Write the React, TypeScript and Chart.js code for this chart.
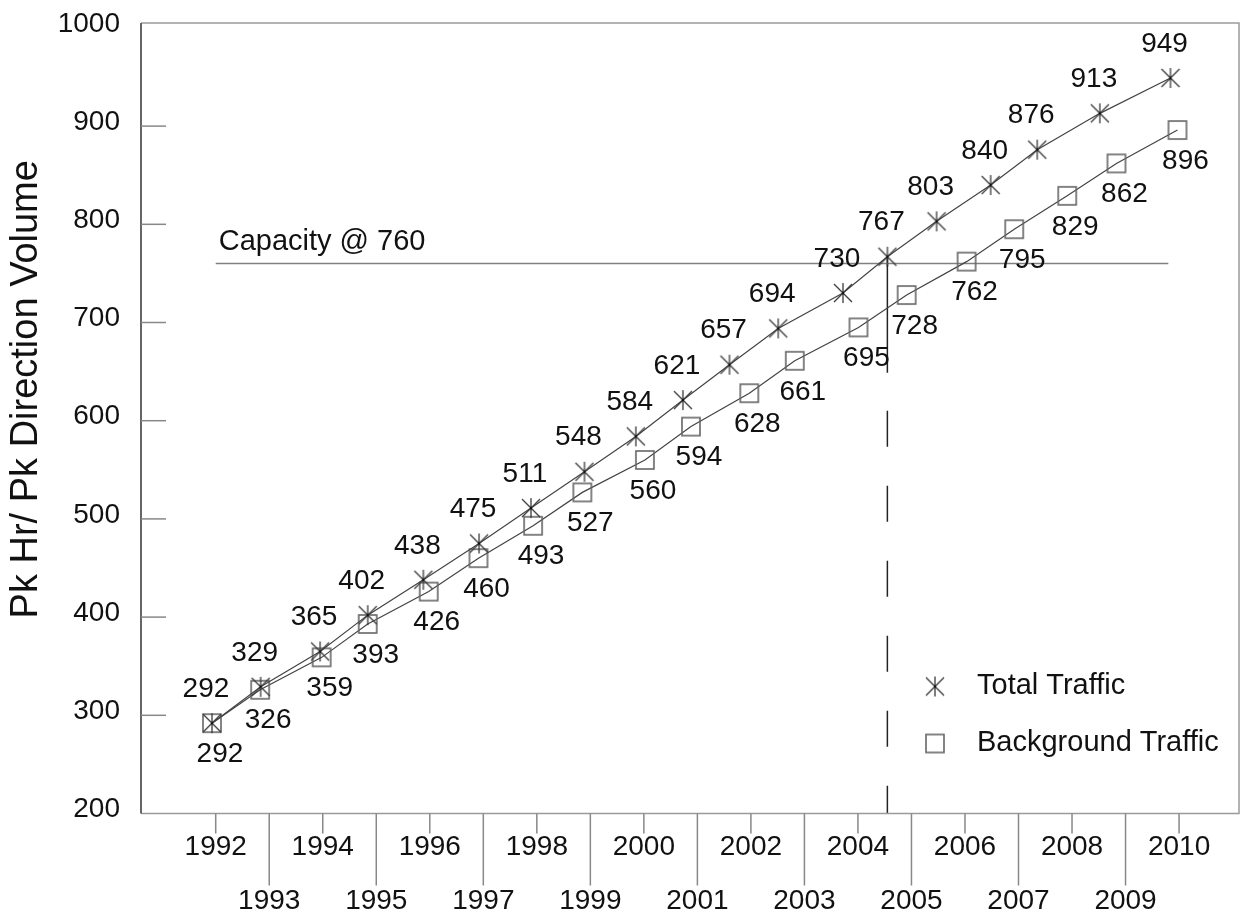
import React, { useEffect, useRef } from 'react';
import { Chart, registerables } from 'chart.js';

Chart.register(...registerables);

// ---- data ----
const years = [1992, 1993, 1994, 1995, 1996, 1997, 1998, 1999, 2000, 2001, 2002, 2003, 2004, 2005, 2006, 2007, 2008, 2009, 2010];
const totalTraffic = [292, 329, 365, 402, 438, 475, 511, 548, 584, 621, 657, 694, 730, 767, 803, 840, 876, 913, 949];
const backgroundTraffic = [292, 326, 359, 393, 426, 460, 493, 527, 560, 594, 628, 661, 695, 728, 762, 795, 829, 862, 896];
// horizontal positions (in years) at which the markers sit in the picture
const totalYearPos = [1991.93, 1992.84, 1993.95, 1994.84, 1995.88, 1996.92, 1997.89, 1998.89, 1999.85, 2000.73, 2001.6, 2002.51, 2003.72, 2004.55, 2005.47, 2006.48, 2007.35, 2008.52, 2009.84];
const backgroundYearPos = [1991.93, 1992.83, 1993.98, 1994.84, 1995.98, 1996.91, 1997.93, 1998.85, 2000.02, 2000.88, 2001.97, 2002.82, 2004.01, 2004.91, 2006.03, 2006.92, 2007.91, 2008.83, 2009.97];
const yTicks = [200, 300, 400, 500, 600, 700, 800, 900, 1000];
const capacity = 760;
const capacityFrom = 1992;
const capacityTo = 2009.8;
const capacityLabel = 'Capacity @ 760';
const exceedIndex = 13; // first year total traffic exceeds capacity (2005)
const seriesNames = ['Total Traffic', 'Background Traffic'];
const yTitle = 'Pk Hr/ Pk Direction Volume';

const FONT = '"Liberation Sans", Arial, sans-serif';

function makeAsterisk(): HTMLCanvasElement {
  const c = document.createElement('canvas');
  c.width = 22;
  c.height = 22;
  const ctx = c.getContext('2d')!;
  ctx.strokeStyle = '#3a3a3a';
  ctx.lineWidth = 1.3;
  const m = 11;
  ctx.beginPath();
  ctx.moveTo(m, m - 10);
  ctx.lineTo(m, m + 10);
  ctx.moveTo(m - 9, m - 9);
  ctx.lineTo(m + 9, m + 9);
  ctx.moveTo(m + 9, m - 9);
  ctx.lineTo(m - 9, m + 9);
  ctx.stroke();
  ctx.fillStyle = '#111';
  ctx.fillRect(m - 1, m - 1, 2, 2);
  return c;
}

function makeSquare(): HTMLCanvasElement {
  const c = document.createElement('canvas');
  c.width = 22;
  c.height = 22;
  const ctx = c.getContext('2d')!;
  ctx.strokeStyle = '#666';
  ctx.lineWidth = 1.6;
  ctx.strokeRect(2, 2, 18, 18);
  return c;
}

export default function App() {
  const ref = useRef<HTMLCanvasElement | null>(null);

  useEffect(() => {
    const canvas = ref.current;
    if (!canvas) return;
    const asterisk = makeAsterisk();
    const square = makeSquare();

    const decor = {
      id: 'decor',
      afterDatasetsDraw(chart: any) {
        const ctx = chart.ctx;
        const a = chart.chartArea;
        const xs = chart.scales.x;
        const ys = chart.scales.y;
        ctx.save();
        // frame
        ctx.strokeStyle = '#9a9a9a';
        ctx.lineWidth = 1.5;
        ctx.beginPath();
        ctx.moveTo(a.left, a.top);
        ctx.lineTo(a.right, a.top);
        ctx.lineTo(a.right, a.bottom);
        ctx.lineTo(a.left, a.bottom);
        ctx.stroke();
        ctx.strokeStyle = '#666';
        ctx.lineWidth = 2;
        ctx.beginPath();
        ctx.moveTo(a.left, a.top);
        ctx.lineTo(a.left, a.bottom);
        ctx.stroke();
        // y ticks (inward)
        ctx.strokeStyle = '#888';
        ctx.lineWidth = 1.5;
        yTicks.forEach((v) => {
          if (v === yTicks[0] || v === yTicks[yTicks.length - 1]) return;
          const py = ys.getPixelForValue(v);
          ctx.beginPath();
          ctx.moveTo(a.left, py);
          ctx.lineTo(a.left + 25, py);
          ctx.stroke();
        });
        // x ticks (outward, odd years longer)
        years.forEach((yr) => {
          const px = xs.getPixelForValue(yr);
          ctx.beginPath();
          ctx.moveTo(px, a.bottom);
          ctx.lineTo(px, a.bottom + (yr % 2 ? 72 : 20));
          ctx.stroke();
        });
        // data labels
        ctx.fillStyle = '#111';
        ctx.font = `28px ${FONT}`;
        ctx.textAlign = 'center';
        ctx.textBaseline = 'middle';
        const m0 = chart.getDatasetMeta(0);
        m0.data.forEach((el: any, i: number) => {
          ctx.fillText(String(totalTraffic[i]), el.x - 6, el.y - 34);
        });
        const m1 = chart.getDatasetMeta(1);
        m1.data.forEach((el: any, i: number) => {
          ctx.fillText(String(backgroundTraffic[i]), el.x + 8, el.y + 31);
        });
        // capacity label
        ctx.font = `29px ${FONT}`;
        ctx.textAlign = 'left';
        ctx.fillText(capacityLabel, xs.getPixelForValue(capacityFrom) + 3, ys.getPixelForValue(capacity) - 22);
        // legend
        const lx = a.right - 304;
        const ly = a.bottom - 127;
        ctx.drawImage(asterisk, lx - 11, ly - 11);
        ctx.drawImage(square, lx - 11, ly + 57 - 11);
        ctx.fillText(seriesNames[0], lx + 42, ly - 1);
        ctx.fillText(seriesNames[1], lx + 42, ly + 56);
        // y title
        ctx.translate(27, (a.top + a.bottom) / 2 - 29);
        ctx.rotate(-Math.PI / 2);
        ctx.textAlign = 'center';
        ctx.font = `38px ${FONT}`;
        ctx.fillText(yTitle, 0, 0);
        ctx.restore();
      },
    };

    const dropX = totalYearPos[exceedIndex];
    const chart = new Chart(canvas, {
      type: 'line',
      data: {
        datasets: [
          {
            label: seriesNames[0],
            data: totalYearPos.map((x, i) => ({ x, y: totalTraffic[i] })),
            borderColor: '#444',
            borderWidth: 1.2,
            pointStyle: asterisk as any,
            pointRadius: 10,
            tension: 0,
          },
          {
            label: seriesNames[1],
            data: backgroundYearPos.map((x, i) => ({ x, y: backgroundTraffic[i] })),
            borderColor: '#444',
            borderWidth: 1.2,
            pointStyle: square as any,
            pointRadius: 10,
            tension: 0,
          },
          {
            label: 'capacity',
            data: [
              { x: capacityFrom, y: capacity },
              { x: capacityTo, y: capacity },
            ],
            borderColor: '#808080',
            borderWidth: 1.5,
            pointRadius: 0,
          },
          {
            label: 'drop',
            data: [
              { x: dropX, y: totalTraffic[exceedIndex] },
              { x: dropX, y: yTicks[0] },
            ],
            borderColor: '#222',
            borderWidth: 1.5,
            borderDash: [116, 38, 36, 39, 36, 39, 36, 39, 36, 39, 36, 39, 36, 39],
            pointRadius: 0,
          },
        ],
      },
      options: {
        animation: false,
        responsive: false,
        layout: { autoPadding: false, padding: { left: 0, right: 5, top: 23, bottom: 0 } },
        plugins: { legend: { display: false }, tooltip: { enabled: false } },
        scales: {
          x: {
            type: 'linear',
            min: 1990.604,
            max: 2011.12,
            grid: { display: false, drawTicks: false },
            border: { display: false },
            afterBuildTicks: (s: any) => {
              s.ticks = years.map((v) => ({ value: v }));
            },
            afterFit: (s: any) => {
              s.height = 97.5;
              s.paddingLeft = 0;
              s.paddingRight = 0;
              s.paddingTop = 0;
              s.paddingBottom = 0;
            },
            ticks: {
              autoSkip: false,
              maxRotation: 0,
              minRotation: 0,
              padding: 7,
              color: '#111',
              font: { family: FONT, size: 28, lineHeight: 1.93 },
              callback: (v: any) => (Number(v) % 2 ? ['', String(v)] : String(v)),
            },
          },
          y: {
            type: 'linear',
            min: 200,
            max: 1005,
            grid: { display: false, drawTicks: false },
            border: { display: false },
            afterBuildTicks: (s: any) => {
              s.ticks = yTicks.map((v) => ({ value: v }));
            },
            afterFit: (s: any) => {
              s.width = 141;
              s.paddingLeft = 0;
              s.paddingRight = 0;
              s.paddingTop = 0;
              s.paddingBottom = 0;
            },
            ticks: {
              padding: 21,
              color: '#111',
              font: { family: FONT, size: 28, lineHeight: 0.29 },
              callback: (v: any) => [String(v), ''],
            },
          },
        },
      } as any,
      plugins: [decor],
    });
    return () => chart.destroy();
  }, []);

  return (
    <div style={{ position: 'absolute', left: 0, top: 0, width: 1244, height: 911, background: '#fff' }}>
      <canvas ref={ref} width={1244} height={911} />
    </div>
  );
}
